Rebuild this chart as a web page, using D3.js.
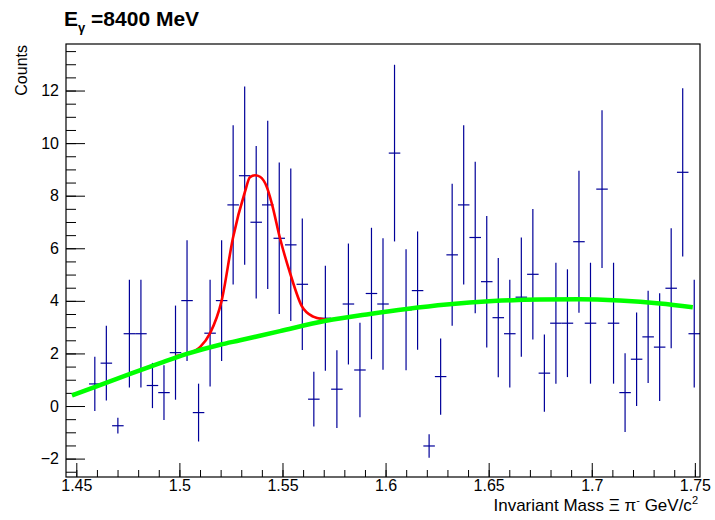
<!DOCTYPE html>
<html>
<head>
<meta charset="utf-8">
<script src="https://cdn.jsdelivr.net/npm/d3@7"></script>
<style>
  body { margin: 0; background: #fff; }
  text { font-family: "Liberation Sans", Arial, Helvetica, sans-serif; }
</style>
</head>
<body>
<svg id="chart" width="715" height="520"></svg>
<script>
// histogram binning (55 bins, first two empty)
var binLow = 1.445;
var binHigh = 1.7525;
var nBins = 55;

// counts per bin, null = empty bin (not drawn)
var counts = [null, null,
  0.84, 1.63, -0.75, 2.75, 2.75, 0.78, 0.51, 2.03, 4.01, -0.25,
  2.77, 4.01, 7.65, 8.76, 6.99, 7.65, 6.38, 6.13, 4.63, 0.26,
  3.34, 0.64, 3.88, 1.37, 4.28, 3.88, 9.62, 3.66, 4.39, -1.52,
  1.12, 5.75, 7.65, 6.41, 4.73, 3.36, 2.75, 4.14, 5.01, 1.25,
  3.15, 3.15, 6.25, 3.15, 8.25, 3.15, 0.51, 1.78, 2.63, 2.24,
  4.48, 8.89, 2.75];
var errors = [null, null,
  1.03, 1.42, 0.30, 2.05, 2.05, 0.86, 1.04, 1.79, 2.30, 1.10,
  2.03, 2.30, 3.03, 3.39, 2.90, 3.20, 2.88, 2.90, 2.50, 1.04,
  2.00, 1.48, 2.30, 1.80, 2.50, 2.50, 3.36, 2.30, 2.25, 0.45,
  1.45, 2.70, 3.03, 2.88, 2.50, 2.27, 2.05, 2.27, 2.48, 1.47,
  2.30, 2.05, 2.70, 2.30, 3.00, 2.30, 1.50, 1.78, 1.75, 2.05,
  2.28, 3.20, 2.05];

// background fit (green)
var bgX = [1.4479, 1.4595, 1.4761, 1.4906, 1.5036, 1.5197, 1.5294, 1.5488, 1.5711,
  1.5924, 1.6102, 1.6296, 1.6521, 1.6748, 1.6942, 1.7136, 1.7330, 1.7490];
var bgY = [0.40, 0.74, 1.22, 1.63, 1.98, 2.33, 2.50, 2.85, 3.24,
  3.50, 3.69, 3.86, 3.99, 4.05, 4.06, 4.01, 3.90, 3.76];

// signal + background fit (red)
var sigX = [1.4980, 1.5039, 1.5100, 1.5149, 1.5205, 1.5260, 1.5318, 1.5342, 1.5367,
  1.5391, 1.5423, 1.5448, 1.5488, 1.5537, 1.5593, 1.5649, 1.5698, 1.5730];
var sigY = [1.90, 1.99, 2.24, 2.77, 4.01, 6.40, 8.15, 8.70, 8.78,
  8.72, 8.35, 7.71, 6.38, 5.05, 3.81, 3.40, 3.30, 3.28];

var xTicks = [1.45, 1.5, 1.55, 1.6, 1.65, 1.7, 1.75];
var yTicks = [-2, 0, 2, 4, 6, 8, 10, 12];

var svg = d3.select("#chart");
var frameL = 66, frameR = 700, frameT = 44, frameB = 477;

var x = d3.scaleLinear().domain([binLow, binHigh]).range([frameL, frameR]);
var y = d3.scaleLinear().domain([-2.70, 13.77]).range([frameB, frameT]);
var bw = (binHigh - binLow) / nBins;

svg.append("rect").attr("width", 715).attr("height", 520).attr("fill", "#fff");

// minor ticks
var xMinor = d3.range(1.45, 1.7525, 0.01);
var yMinor = d3.range(-2.5, 13.6, 0.5);

svg.append("g").attr("transform", "translate(0," + frameB + ")")
  .call(d3.axisBottom(x).tickValues(xMinor).tickSize(-7).tickFormat(""))
  .call(function (g) { g.select(".domain").remove(); });
svg.append("g").attr("transform", "translate(0," + frameB + ")")
  .call(d3.axisBottom(x).tickValues(xTicks).tickSize(-14).tickPadding(3)
    .tickFormat(function (d) { return String(+d.toFixed(2)); }))
  .call(function (g) {
    g.select(".domain").remove();
    g.selectAll("text").attr("font-size", 16).attr("fill", "#000")
      .attr("font-family", "Liberation Sans, Arial, sans-serif");
  });

svg.append("g").attr("transform", "translate(" + frameL + ",0)")
  .call(d3.axisLeft(y).tickValues(yMinor).tickSize(-10).tickFormat(""))
  .call(function (g) { g.select(".domain").remove(); });
svg.append("g").attr("transform", "translate(" + frameL + ",0)")
  .call(d3.axisLeft(y).tickValues(yTicks).tickSize(-19).tickPadding(7))
  .call(function (g) {
    g.select(".domain").remove();
    g.selectAll("text").attr("font-size", 16).attr("fill", "#000")
      .attr("font-family", "Liberation Sans, Arial, sans-serif");
  });

// error bars
var bins = counts.map(function (c, i) {
  return { lo: binLow + i * bw, hi: binLow + (i + 1) * bw, mid: binLow + (i + 0.5) * bw, v: c, e: errors[i] };
}).filter(function (d) { return d.v !== null; });

var eb = svg.append("g").attr("stroke", "#000099").attr("stroke-width", 1.2);
eb.selectAll("line.h").data(bins).enter().append("line")
  .attr("class", "h")
  .attr("x1", function (d) { return x(d.lo); })
  .attr("x2", function (d) { return x(d.hi); })
  .attr("y1", function (d) { return y(d.v); })
  .attr("y2", function (d) { return y(d.v); });
eb.selectAll("line.v").data(bins).enter().append("line")
  .attr("class", "v")
  .attr("x1", function (d) { return x(d.mid); })
  .attr("x2", function (d) { return x(d.mid); })
  .attr("y1", function (d) { return y(d.v - d.e); })
  .attr("y2", function (d) { return y(d.v + d.e); });

// fits
var line = d3.line()
  .x(function (d) { return x(d[0]); })
  .y(function (d) { return y(d[1]); })
  .curve(d3.curveMonotoneX);

svg.append("path")
  .datum(d3.zip(sigX, sigY))
  .attr("d", line)
  .attr("fill", "none").attr("stroke", "#ff0000").attr("stroke-width", 2.6);

svg.append("path")
  .datum(d3.zip(bgX, bgY))
  .attr("d", line)
  .attr("fill", "none").attr("stroke", "#00ff00").attr("stroke-width", 4.5);

// frame
svg.append("rect")
  .attr("x", frameL).attr("y", frameT)
  .attr("width", frameR - frameL).attr("height", frameB - frameT)
  .attr("fill", "none").attr("stroke", "#000").attr("stroke-width", 1.2);

// titles
var title = svg.append("text").attr("x", 64).attr("y", 26)
  .attr("font-size", 21).attr("font-weight", "bold");
title.append("tspan").text("E");
title.append("tspan").attr("font-size", 13).attr("dy", 6).text("γ");
title.append("tspan").attr("dy", -6).text(" =8400 MeV");

svg.append("text")
  .attr("transform", "translate(27,45) rotate(-90)")
  .attr("text-anchor", "end")
  .attr("font-size", 16)
  .text("Counts");

var xt = svg.append("text").attr("x", 698).attr("y", 511)
  .attr("text-anchor", "end").attr("font-size", 17);
xt.append("tspan").text("Invariant Mass Ξ π");
xt.append("tspan").attr("font-size", 11).attr("dy", -7).text("-");
xt.append("tspan").attr("dy", 7).text(" GeV/c");
xt.append("tspan").attr("font-size", 11).attr("dy", -7).text("2");
</script>
</body>
</html>
